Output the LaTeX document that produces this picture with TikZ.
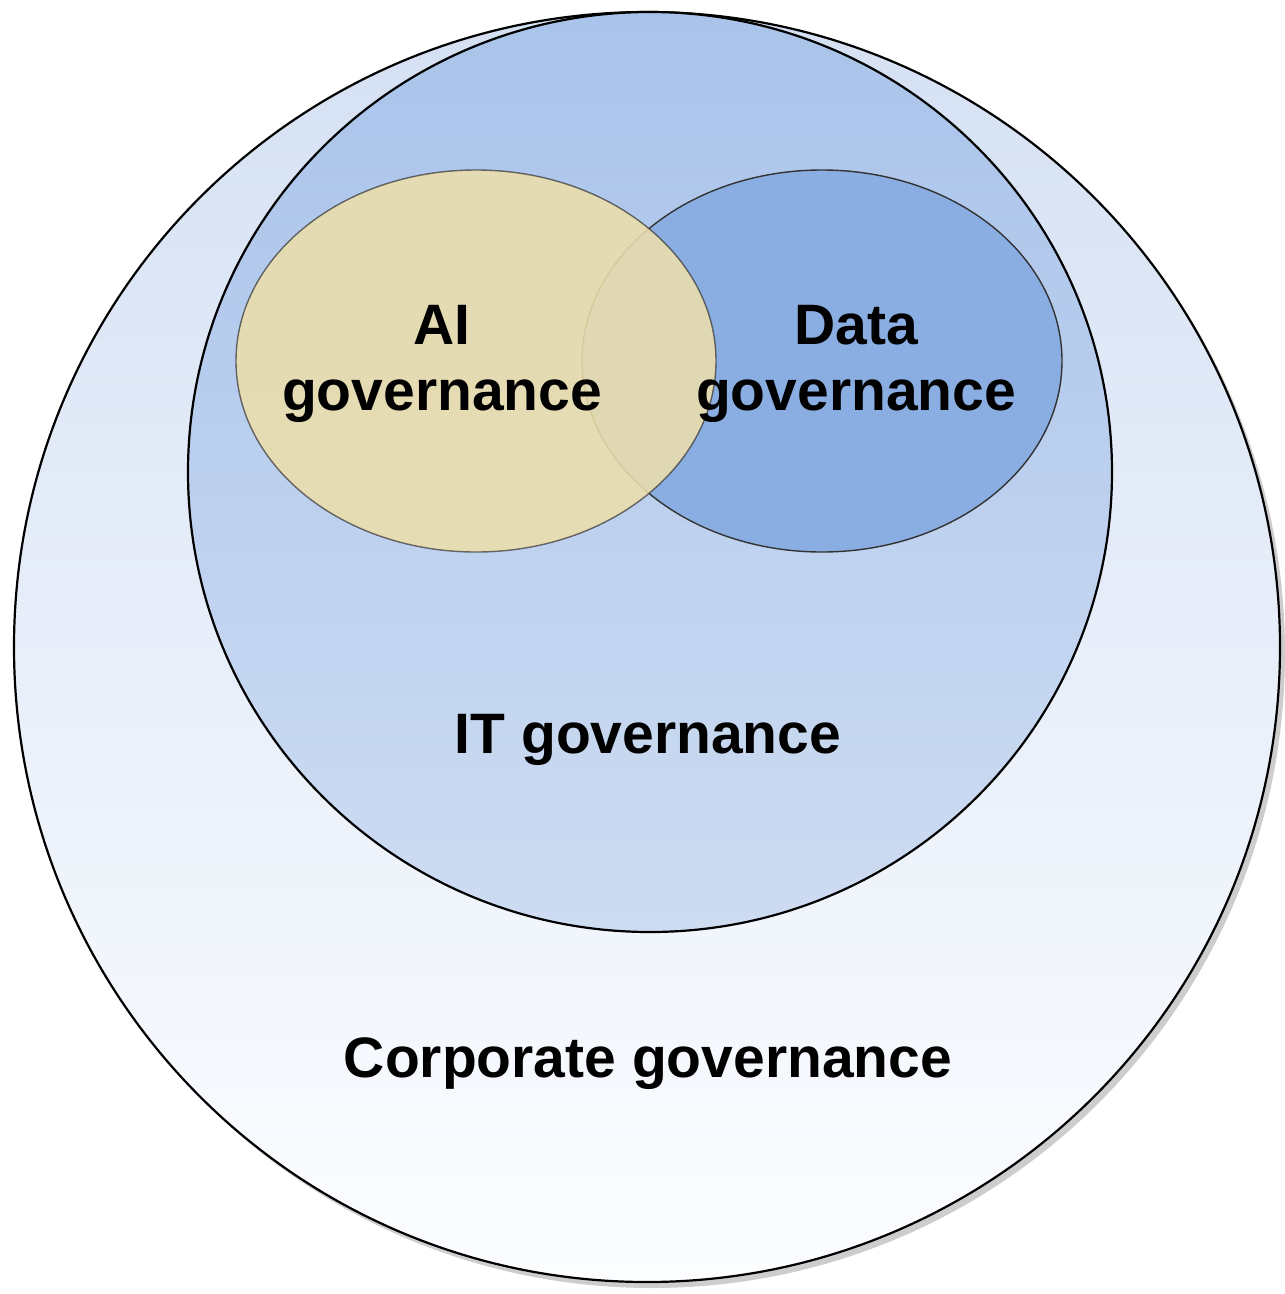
\documentclass[tikz,border=0pt]{standalone}
\usepackage{fontspec}
\setmainfont{Liberation Sans}
\definecolor{outerTop}{HTML}{D4E0F3}
\definecolor{outerBot}{HTML}{FCFDFF}
\definecolor{itTop}{HTML}{A9C3EA}
\definecolor{itBot}{HTML}{CEDCF2}
\definecolor{aiFill}{HTML}{ECDEAC}
\definecolor{dataFill}{HTML}{8AAEE2}
\definecolor{shadowGray}{HTML}{B8B8B8}
\begin{document}
\begin{tikzpicture}[x=1pt,y=-1pt,
  lbl/.style={font=\fontsize{57}{66}\selectfont\bfseries, align=center, text=black},
  ring/.style={draw=black, line width=2.2pt},
  thinring/.style={draw=black!80, line width=1.4pt}]
\useasboundingbox (0,0) rectangle (1285,1294);
% shadow of outer circle
\fill[shadowGray, opacity=0.7] (652,653) ellipse [x radius=633, y radius=635];
% outer circle
\path[ring, top color=outerTop, bottom color=outerBot] (647,647) ellipse [x radius=633, y radius=635];
\node[inner sep=0pt] (corp) at (647,647) {};
% IT circle
\path[ring, top color=itTop, bottom color=itBot] (650,472) ellipse [x radius=462, y radius=460];
\node[inner sep=0pt] (it) at (650,472) {};
% Data ellipse
\path[thinring, fill=dataFill] (822,361) ellipse [x radius=240, y radius=191];
\node[inner sep=0pt] (data) at (822,361) {};
% AI ellipse (semi-transparent)
\path[thinring, fill=aiFill, fill opacity=0.88, draw opacity=0.7] (476,361) ellipse [x radius=240, y radius=191];
\node[inner sep=0pt] (ai) at (476,361) {};
% labels
\node[lbl] (ailbl) at (442,364) {AI\\governance};
\node[lbl] (datalbl) at (856,364) {Data\\governance};
\node[lbl] (itlbl) at (648,740) {IT governance};
\node[lbl] (corplbl) at (648,1064) {Corporate governance};
\end{tikzpicture}
\end{document}
